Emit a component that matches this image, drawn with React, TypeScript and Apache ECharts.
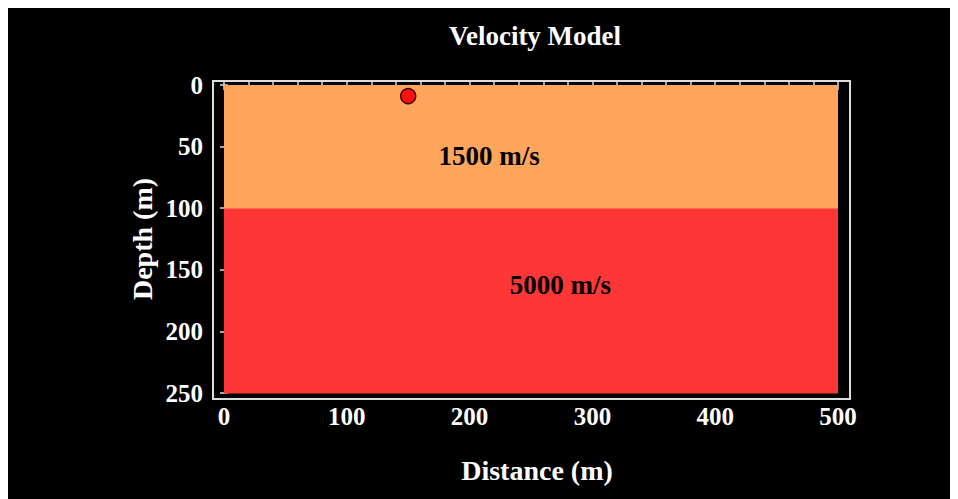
import { useEffect, useRef } from "react";
import * as echarts from "echarts";

// ---- data ----
const distanceRange = [0, 500];
const depthRange = [0, 250];
const layerTop = [0, 100];
const layerBottom = [100, 250];
const layerVelocity = [1500, 5000];
const layerColors = ["#FFA65C", "#FF3636"];
const labelDistance = [216, 274];
const labelDepth = [58, 162];
const sourceDistance = [150];
const sourceDepth = [9];

const FONT = '"Liberation Serif", "DejaVu Serif", serif';
const FRAME = "#dcdcdc";

export default function App() {
  const ref = useRef<HTMLDivElement>(null);
  useEffect(() => {
    document.body.style.overflow = "hidden";
    const chart = echarts.init(ref.current!, null, { renderer: "svg" });
    const tickStyle = { color: FRAME, width: 1.5 };
    const xCommon: any = {
      type: "value",
      gridIndex: 0,
      min: distanceRange[0],
      max: distanceRange[1],
      interval: 100,
      splitLine: { show: false },
      axisLine: { show: false },
      axisTick: { show: true, inside: true, length: 5, lineStyle: tickStyle },
      minorTick: { show: true, splitNumber: 5, length: 3, lineStyle: tickStyle },
    };
    const yCommon: any = {
      type: "value",
      gridIndex: 0,
      inverse: true,
      min: depthRange[0],
      max: depthRange[1],
      interval: 50,
      splitLine: { show: false },
      axisLine: { show: false },
      axisTick: { show: true, inside: true, length: 4, lineStyle: tickStyle },
    };
    const labelStyle = {
      color: "#ffffff",
      fontFamily: FONT,
      fontWeight: "bold" as const,
      fontSize: 25,
    };
    chart.setOption({
      animation: false,
      backgroundColor: "#000000",
      title: {
        text: "Velocity Model",
        left: 522,
        top: 9,
        textAlign: "center",
        textStyle: { ...labelStyle, fontSize: 27 },
      },
      grid: [
        { left: 216, top: 77, width: 614, height: 308, show: false },
        {
          left: 205,
          top: 73,
          width: 637,
          height: 318,
          show: true,
          borderColor: FRAME,
          borderWidth: 2,
          backgroundColor: "transparent",
        },
      ],
      xAxis: [
        { ...xCommon, position: "bottom", offset: 6, axisLabel: { ...labelStyle, margin: 5 } },
        { ...xCommon, position: "top", offset: 4, axisLabel: { show: false } },
        { type: "value", gridIndex: 1, show: false, min: 0, max: 1 },
      ],
      yAxis: [
        { ...yCommon, position: "left", offset: 11, axisLabel: { ...labelStyle, margin: 10 } },
        { ...yCommon, position: "right", offset: 12, axisLabel: { show: false } },
        { type: "value", gridIndex: 1, show: false, min: 0, max: 1 },
      ],
      graphic: [
        {
          type: "text",
          x: 529,
          y: 462,
          style: {
            text: "Distance (m)",
            fill: "#ffffff",
            font: `bold 28px ${FONT}`,
            align: "center",
            verticalAlign: "middle",
          },
        },
        {
          type: "text",
          x: 134,
          y: 231,
          rotation: Math.PI / 2,
          style: {
            text: "Depth (m)",
            fill: "#ffffff",
            font: `bold 28px ${FONT}`,
            align: "center",
            verticalAlign: "middle",
          },
        },
      ],
      series: [
        {
          type: "custom",
          xAxisIndex: 0,
          yAxisIndex: 0,
          encode: { x: [0, 2], y: [1, 3] },
          data: layerTop.map((t, i) => [distanceRange[0], t, distanceRange[1], layerBottom[i]]),
          renderItem: (params: any, api: any) => {
            const p0 = api.coord([api.value(0), api.value(1)]);
            const p1 = api.coord([api.value(2), api.value(3)]);
            const x0 = Math.round(p0[0]);
            const y0 = Math.round(p0[1]);
            const x1 = Math.round(p1[0]);
            const y1 = Math.round(p1[1]);
            return {
              type: "rect",
              shape: { x: x0, y: y0, width: x1 - x0, height: y1 - y0 + 0.5 },
              style: { fill: layerColors[params.dataIndex], stroke: "none", lineWidth: 0 },
              z2: params.dataIndex === 0 ? 2 : 1,
            };
          },
          z: 1,
        },
        {
          type: "custom",
          xAxisIndex: 0,
          yAxisIndex: 0,
          data: labelDistance.map((d, i) => [d, labelDepth[i], layerVelocity[i]]),
          renderItem: (_params: any, api: any) => {
            const p = api.coord([api.value(0), api.value(1)]);
            return {
              type: "text",
              x: p[0],
              y: p[1],
              style: {
                text: `${api.value(2)} m/s`,
                fill: "#000000",
                font: `bold 27px ${FONT}`,
                align: "center",
                verticalAlign: "middle",
              },
            };
          },
          z: 3,
        },
        {
          type: "scatter",
          xAxisIndex: 0,
          yAxisIndex: 0,
          symbol: "circle",
          symbolSize: 15,
          data: sourceDistance.map((d, i) => [d, sourceDepth[i]]),
          itemStyle: { color: "#FF1010", borderColor: "#3a0000", borderWidth: 1.5, opacity: 1 },
          z: 4,
        },
      ],
    });
    return () => chart.dispose();
  }, []);
  return <div ref={ref} style={{ width: 950, height: 491 }} />;
}
